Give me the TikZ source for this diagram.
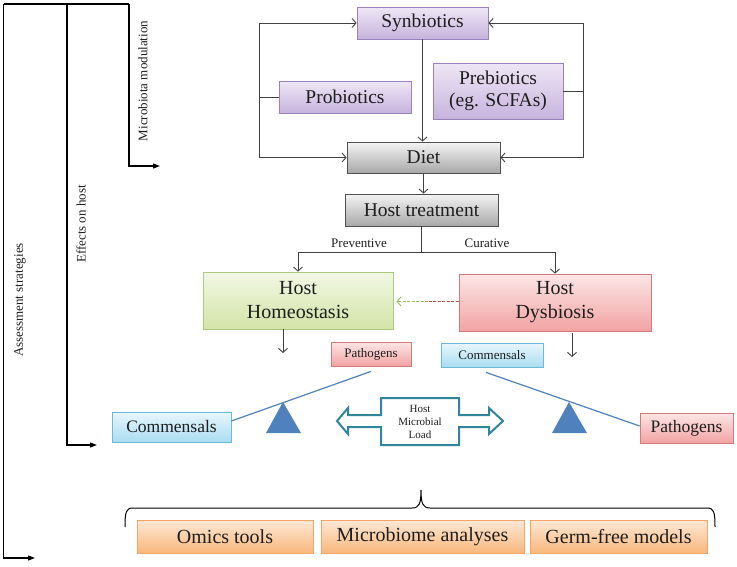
\documentclass[tikz,border=0pt]{standalone}
\usepackage{fontspec}
\setmainfont{Liberation Serif}
\usetikzlibrary{arrows.meta,calc}
\definecolor{purT}{HTML}{EEE7F5}
\definecolor{purB}{HTML}{C7B3DE}
\definecolor{purD}{HTML}{9A82BE}
\definecolor{gryT}{HTML}{F4F4F4}
\definecolor{gryB}{HTML}{A8A8A8}
\definecolor{gryD}{HTML}{505050}
\definecolor{grnT}{HTML}{F2F7E4}
\definecolor{grnB}{HTML}{D3E4A8}
\definecolor{grnD}{HTML}{AFC97E}
\definecolor{redT}{HTML}{FCE6E6}
\definecolor{redB}{HTML}{F2A3A3}
\definecolor{redD}{HTML}{D27C7A}
\definecolor{bluT}{HTML}{E8F6FC}
\definecolor{bluB}{HTML}{AADDF2}
\definecolor{bluD}{HTML}{6DBAD6}
\definecolor{orgT}{HTML}{FDE8D6}
\definecolor{orgB}{HTML}{F9B87C}
\definecolor{orgD}{HTML}{F4A466}
\definecolor{connC}{HTML}{404040}
\definecolor{triC}{HTML}{4F81BD}
\definecolor{tealC}{HTML}{31859C}
\definecolor{dashRed}{HTML}{C0504D}
\definecolor{dashGrn}{HTML}{9BBB59}
\definecolor{txtC}{HTML}{1E1E1E}
\begin{document}
\begin{tikzpicture}[x=1pt,y=-1pt,
  box/.style={draw, line width=0.8pt, inner sep=0pt, align=center, text=txtC,
    font=\fontsize{19.5}{23}\selectfont},
  purbox/.style={box, draw=purD, top color=purT, bottom color=purB},
  grybox/.style={box, draw=gryD, top color=gryT, bottom color=gryB},
  grnbox/.style={box, draw=grnD, top color=grnT, bottom color=grnB},
  redbox/.style={box, draw=redD, top color=redT, bottom color=redB},
  blubox/.style={box, draw=bluD, top color=bluT, bottom color=bluB},
  orgbox/.style={box, draw=orgD, top color=orgT, bottom color=orgB},
  conn/.style={draw=connC, line width=0.9pt},
  arr/.style={conn, -{Straight Barb[length=4pt,width=9pt]}},
  bracket/.style={draw=black, line width=1.2pt, line join=miter},
  barr/.style={bracket, -{Triangle[length=7pt,width=5pt]}},
  sidelbl/.style={rotate=90, text=txtC, font=\fontsize{13}{15}\selectfont},
  smalllbl/.style={text=txtC, font=\fontsize{13}{15}\selectfont},
  balline/.style={draw=triC, line width=1.2pt}
]
\useasboundingbox (0,0) rectangle (737,566);

% left brackets
\coordinate (a0) at (3.5,4);
\coordinate (a1) at (3.5,558);
\coordinate (a2) at (35,558);
\coordinate (e0) at (67,4);
\coordinate (e1) at (67,445);
\coordinate (e2) at (97,445);
\coordinate (m0) at (129,4);
\coordinate (m1) at (129,166);
\coordinate (m2) at (160,166);
\draw[bracket] (a0) -- (m0);
\draw[barr] (a0) -- (a1) -- (a2);
\draw[barr] (e0) -- (e1) -- (e2);
\draw[barr] (m0) -- (m1) -- (m2);
\node[sidelbl] (lblA) at (20,300) {Assessment strategies};
\node[sidelbl] (lblE) at (81,224) {Effects on host};
\node[sidelbl] (lblM) at (143,81) {Microbiota modulation};

% top section
\node[purbox, minimum width=131, minimum height=32] (syn) at (422.5,23) {Synbiotics};
\node[purbox, minimum width=132, minimum height=32] (prob) at (345,97) {Probiotics};
\node[purbox, minimum width=130, minimum height=56, font=\fontsize{19.5}{22.5}\selectfont] (preb) at (498,91) {Prebiotics\\(eg. SCFAs)};
\node[grybox, minimum width=153, minimum height=31] (diet) at (423.5,157.5) {Diet};
\node[grybox, minimum width=153, minimum height=32] (ht) at (421.5,210) {Host treatment};

\coordinate (L) at (259,97);
\coordinate (R) at (583,91);
\draw[conn] (prob.west) -- (L);
\draw[arr] (L) |- (syn.west);
\draw[arr] (L) |- (diet.west);
\draw[conn] (preb.east) -- (R);
\draw[arr] (R) |- (syn.east);
\draw[arr] (R) |- (diet.east);
\draw[arr] (syn.south) -- (syn.south |- diet.north);
\draw[arr] (diet.south) -- (diet.south |- ht.north);

% host states
\node[grnbox, minimum width=190, minimum height=57, font=\fontsize{20}{24}\selectfont] (homeo) at (298,300.5) {Host\\Homeostasis};
\node[redbox, minimum width=192, minimum height=57, font=\fontsize{20}{24}\selectfont] (dys) at (555,302.5) {Host\\Dysbiosis};

\coordinate (brY) at (0,252);
\draw[conn] (ht.south) -- (ht.south |- brY);
\draw[arr] (ht.south |- brY) -| (homeo.north);
\draw[arr] (ht.south |- brY) -| (dys.north);
\node[smalllbl] (prev) at (359,243) {Preventive};
\node[smalllbl] (cur) at (487,243) {Curative};

\coordinate (dmid) at (428,301.5);
\draw[draw=dashRed, line width=0.9pt, dash pattern=on 3pt off 1.5pt] (dys.west |- dmid) -- (dmid);
\draw[draw=dashGrn, line width=0.9pt, dash pattern=on 3pt off 1.5pt, -{Straight Barb[length=4pt,width=9pt]}] (dmid) -- ($(homeo.east |- dmid)+(3,0)$);

\coordinate (hdEnd) at (283,353);
\coordinate (ddEnd) at (572,357);
\draw[arr] (homeo.south -| hdEnd) -- (hdEnd);
\draw[arr] ($(dys.south -| ddEnd)+(0,2)$) -- (ddEnd);

% balance
\node[redbox, minimum width=80, minimum height=24, font=\fontsize{13}{15}\selectfont] (patS) at (371,354) {Pathogens};
\node[blubox, minimum width=102, minimum height=24, font=\fontsize{13}{15}\selectfont] (comS) at (492,355) {Commensals};
\node[blubox, minimum width=119, minimum height=30, font=\fontsize{17.5}{20}\selectfont] (comB) at (171.5,427) {Commensals};
\node[redbox, minimum width=93, minimum height=30, font=\fontsize{17.5}{20}\selectfont] (patB) at (686.5,428) {Pathogens};

\draw[balline] ($(comB.east)+(0,-6)$) -- ($(patS.south)+(0,5)$);
\draw[balline] ($(comS.south)+(-6,5)$) -- ($(patB.west)+(0,-2)$);
\fill[triC] (283,402) -- (301,433) -- (266,433) -- cycle;
\fill[triC] (569,402) -- (587,433) -- (552,433) -- cycle;

% double arrow
\draw[draw=tealC, line width=2pt, fill=white, line join=miter]
  (337,421) -- (348,408) -- (348,415) -- (381,415) -- (381,398) -- (459,398)
  -- (459,415) -- (489,415) -- (489,408) -- (503,421) -- (489,434) -- (489,427)
  -- (459,427) -- (459,445) -- (381,445) -- (381,427) -- (348,427) -- (348,434) -- cycle;
\node[align=center, text=txtC, font=\fontsize{11}{13}\selectfont] (load) at (420,422) {Host\\Microbial\\Load};

% brace
\draw[draw=black, line width=1pt]
  (125,527) .. controls (125,512) and (126,508) .. (133,508) -- (412,508)
  .. controls (419,508) and (421,504) .. (421,490)
  .. controls (421,504) and (423,508) .. (430,508) -- (707,508)
  .. controls (714,508) and (715,512) .. (715,527);

% bottom
\node[orgbox, minimum width=176, minimum height=33, font=\fontsize{20}{24}\selectfont] (omics) at (225,536.5) {Omics tools};
\node[orgbox, minimum width=203, minimum height=33, font=\fontsize{20}{24}\selectfont] (micro) at (422.5,536.5) {Microbiome analyses};
\node[orgbox, minimum width=177, minimum height=33, font=\fontsize{20}{24}\selectfont] (germ) at (618.5,536.5) {Germ-free models};
\end{tikzpicture}
\end{document}
